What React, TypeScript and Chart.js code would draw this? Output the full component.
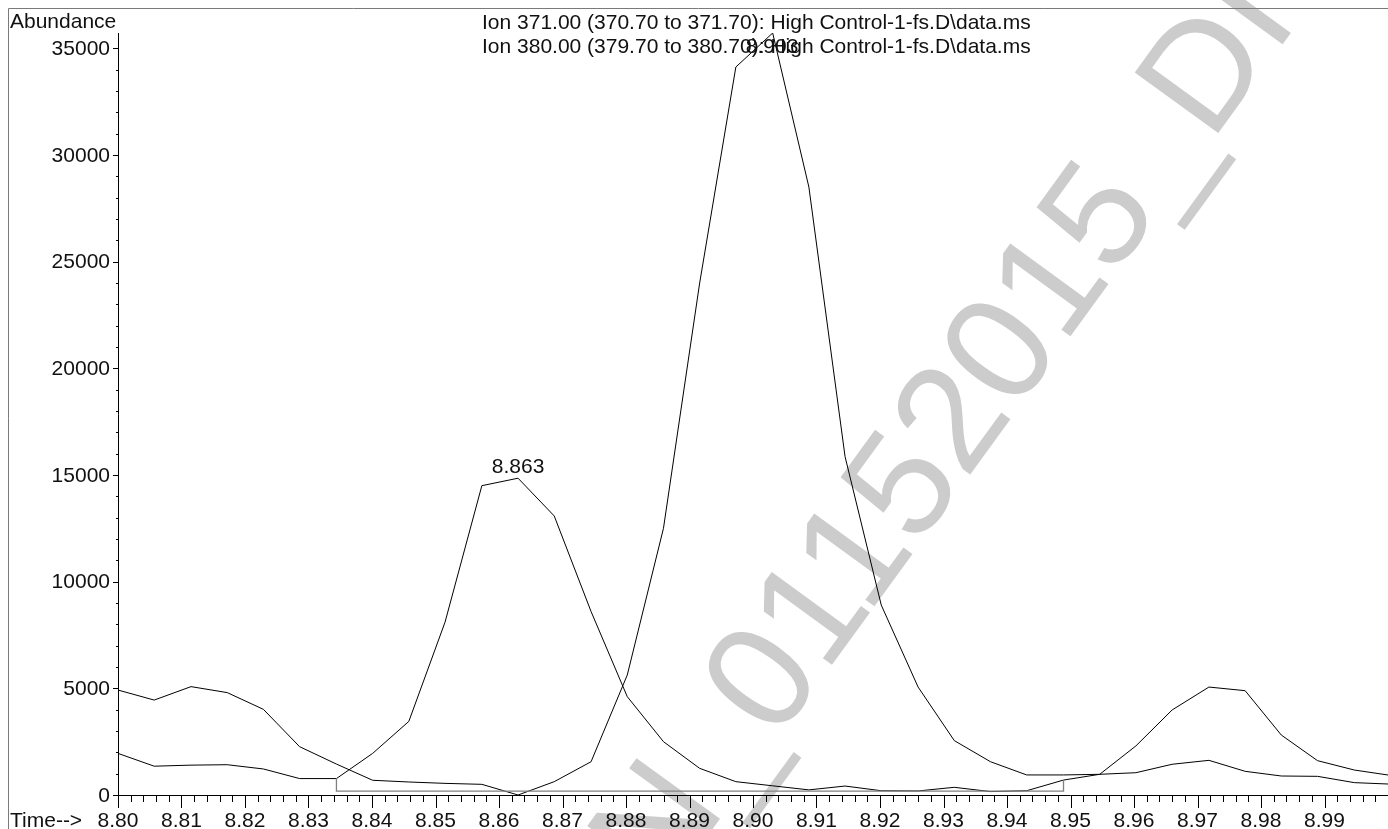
import React, { useEffect, useRef } from "react";
import { Chart, registerables } from "chart.js";

Chart.register(...registerables);

// Retention time of each scan (min)
const times = [
  8.8000, 8.8057, 8.8115, 8.8172, 8.8229, 8.8286, 8.8344, 8.8401, 8.8458, 8.8515,
  8.8573, 8.8630, 8.8687, 8.8745, 8.8802, 8.8859, 8.8916, 8.8973, 8.9031, 8.9088,
  8.9145, 8.9202, 8.9260, 8.9317, 8.9374, 8.9431, 8.9489, 8.9546, 8.9603, 8.9660,
  8.9718, 8.9775, 8.9832, 8.9889, 8.9947, 9.0004,
];

// Ion 371.00 abundance
const ion371 = [
  1950, 1350, 1400, 1420, 1220, 770, 770, 1950, 3450, 8100,
  14500, 14850, 13080, 8600, 4610, 2500, 1250, 625, 430, 240,
  420, 200, 190, 360, 160, 200, 700, 970, 1045, 1440,
  1625, 1110, 890, 875, 580, 510,
];

// Ion 380.00 abundance
const ion380 = [
  4920, 4450, 5080, 4800, 4015, 2265, 1450, 690, 610, 545,
  500, 0, 625, 1560, 5625, 12500, 24000, 34125, 35720, 28500,
  15860, 8900, 5060, 2550, 1560, 940, 940, 970, 2300, 3985,
  5060, 4890, 2810, 1610, 1170, 920,
];

// Integration baseline
const baselineTimes = [8.8344, 8.8344, 8.9489, 8.9489];
const baselineValues = [770, 180, 180, 700];

// Peak labels
const peakTimes = [8.863, 8.903];
const peakValues = [14850, 35720];
const peakLabels = ["8.863", "8.903"];

const xTickLabels = [
  "8.80", "8.81", "8.82", "8.83", "8.84", "8.85", "8.86", "8.87", "8.88", "8.89",
  "8.90", "8.91", "8.92", "8.93", "8.94", "8.95", "8.96", "8.97", "8.98", "8.99",
];
const yTickLabels = ["0", "5000", "10000", "15000", "20000", "25000", "30000", "35000"];

const headerLines = [
  "Ion 371.00 (370.70 to 371.70): High Control-1-fs.D\\data.ms",
  "Ion 380.00 (379.70 to 380.70): High Control-1-fs.D\\data.ms",
];
const watermarkText = "N_01152015_DI";

const FONT = '21px "Liberation Sans", Arial, sans-serif';

const decorPlugin = {
  id: "decor",
  beforeDatasetsDraw(chart: any) {
    const ctx = chart.ctx;
    ctx.save();
    // watermark
    const fs = 150;
    ctx.font = `${fs}px "Liberation Sans", Arial, sans-serif`;
    ctx.fillStyle = "#cccccc";
    const wUnd = ctx.measureText("N_").width;
    const w0 = ctx.measureText("0").width;
    ctx.translate(757, 676);
    ctx.rotate((-54 * Math.PI) / 180);
    ctx.textAlign = "left";
    ctx.textBaseline = "alphabetic";
    ctx.fillText(watermarkText, -(wUnd + w0 / 2), 0.36 * fs);
    ctx.restore();
  },
  afterDraw(chart: any) {
    const ctx = chart.ctx;
    const xs = chart.scales.x;
    const ys = chart.scales.y;
    const area = chart.chartArea;
    ctx.save();
    // frame
    ctx.strokeStyle = "#7a7a7a";
    ctx.lineWidth = 1;
    ctx.beginPath();
    ctx.moveTo(8.5, 829);
    ctx.lineTo(8.5, 8.5);
    ctx.lineTo(1388, 8.5);
    ctx.stroke();

    // axes
    ctx.strokeStyle = "#000";
    ctx.lineWidth = 1;
    ctx.beginPath();
    ctx.moveTo(Math.round(area.left) + 0.5, area.top);
    ctx.lineTo(Math.round(area.left) + 0.5, area.bottom + 0.5);
    ctx.lineTo(area.right, area.bottom + 0.5);
    ctx.stroke();

    // x ticks
    ctx.beginPath();
    for (let i = 0; i <= 100; i++) {
      const v = 8.8 + i * 0.002;
      const px = Math.round(xs.getPixelForValue(v)) + 0.5;
      if (px > area.right) break;
      const len = i % 5 === 0 ? 13 : 7;
      ctx.moveTo(px, area.bottom);
      ctx.lineTo(px, area.bottom + len);
    }
    // y ticks
    for (let v = 0; v <= 35000; v += 1000) {
      const py = Math.round(ys.getPixelForValue(v)) + 0.5;
      const len = v % 5000 === 0 ? 5 : 2;
      ctx.moveTo(area.left - len, py);
      ctx.lineTo(area.left, py);
    }
    ctx.stroke();

    ctx.font = FONT;
    ctx.fillStyle = "#111";
    // x labels
    ctx.textAlign = "center";
    ctx.textBaseline = "alphabetic";
    xTickLabels.forEach((l) => {
      ctx.fillText(l, xs.getPixelForValue(parseFloat(l)), 827);
    });
    // y labels
    ctx.textAlign = "right";
    ctx.textBaseline = "middle";
    yTickLabels.forEach((l) => {
      ctx.fillText(l, area.left - 8, ys.getPixelForValue(parseFloat(l)) + 1);
    });
    // axis titles
    ctx.textAlign = "left";
    ctx.textBaseline = "alphabetic";
    ctx.fillText("Abundance", 10, 28);
    ctx.fillText("Time-->", 10, 827);
    // header
    ctx.fillText(headerLines[0], 482, 29);
    ctx.fillText(headerLines[1], 482, 53);
    // peak labels
    ctx.textAlign = "center";
    peakLabels.forEach((l, i) => {
      const px = xs.getPixelForValue(peakTimes[i]);
      let py = ys.getPixelForValue(peakValues[i]) - 5;
      if (py < 53) py = 53;
      ctx.fillText(l, px, py);
    });
    ctx.restore();
  },
};

export default function App() {
  const ref = useRef<HTMLCanvasElement>(null);
  useEffect(() => {
    if (!ref.current) return;
    const mk = (xArr: number[], yArr: number[]) => xArr.map((x, i) => ({ x, y: yArr[i] }));
    const chart = new Chart(ref.current, {
      type: "line",
      data: {
        datasets: [
          {
            label: "baseline",
            data: mk(baselineTimes, baselineValues),
            borderColor: "#808080",
            borderWidth: 1.3,
            pointRadius: 0,
            tension: 0,
          },
          {
            label: "Ion 371.00",
            data: mk(times, ion371),
            borderColor: "#000",
            borderWidth: 1,
            pointRadius: 0,
            tension: 0,
          },
          {
            label: "Ion 380.00",
            data: mk(times, ion380),
            borderColor: "#000",
            borderWidth: 1,
            pointRadius: 0,
            tension: 0,
          },
        ],
      },
      options: {
        animation: false,
        responsive: false,
        maintainAspectRatio: false,
        layout: { padding: { left: 118, right: 0, top: 33, bottom: 34 } },
        plugins: { legend: { display: false }, tooltip: { enabled: false } },
        events: [],
        scales: {
          x: { type: "linear", min: 8.8, max: 9.0, display: false },
          y: { type: "linear", min: 0, max: 35720, display: false },
        },
      },
      plugins: [decorPlugin],
    });
    return () => chart.destroy();
  }, []);
  return (
    <div style={{ position: "absolute", left: 0, top: 0, width: 1388, height: 829, background: "#fff" }}>
      <canvas ref={ref} width={1388} height={829} style={{ display: "block" }} />
    </div>
  );
}
